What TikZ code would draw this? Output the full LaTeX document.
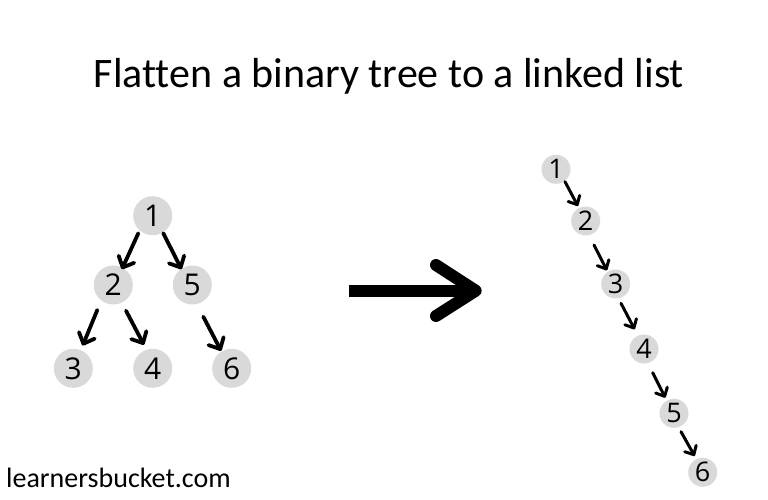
\documentclass[tikz,border=0pt]{standalone}
\usepackage{fontspec}
\setmainfont{Open Sans}
\newfontfamily\titlefont[Ligatures=NoCommon]{Carlito}
\usetikzlibrary{arrows.meta,calc}
\definecolor{nodegray}{HTML}{D9D9D9}
\begin{document}
\begin{tikzpicture}[x=1pt,y=-1pt,
  treenode/.style={circle,fill=nodegray,minimum size=39pt,inner sep=0pt,outer sep=0pt,font=\fontsize{30}{30}\selectfont},
  listnode/.style={circle,fill=nodegray,minimum size=29pt,inner sep=0pt,outer sep=0pt,font=\fontsize{27}{27}\selectfont},
  treearr/.style={line width=3.8pt,line cap=round,-{Straight Barb[length=9pt,width=17pt,round]}},
  listarr/.style={line width=3pt,line cap=round,-{Straight Barb[length=7pt,width=13pt,round]}},
  bigarr/.style={line width=12pt,line cap=round,line join=round}
]
\useasboundingbox (0,0) rectangle (768,500);
\fill[white] (0,0) rectangle (768,500);

\node[font=\titlefont\fontsize{42}{42}\selectfont,anchor=base] (title) at (389,87.3) {Flatten a binary tree to a linked list};
\node[font=\titlefont\fontsize{28}{28}\selectfont,anchor=base west,inner sep=0pt] (footer) at (6,487.3) {learnersbucket.com};

% tree
\node[treenode] (t1) at (152.7,215.7) {1};
\node[treenode] (t2) at (113.3,285) {2};
\node[treenode] (t5) at (192.3,285) {5};
\node[treenode] (t3) at (73.3,368.3) {3};
\node[treenode] (t4) at (152.7,368.3) {4};
\node[treenode] (t6) at (231.7,368.3) {6};

\draw[treearr] ($(t1)+(-14.4,17.6)$) -- ($(t2)+(8.6,-15.8)$);
\draw[treearr] ($(t1)+(10.6,17.6)$) -- ($(t5)+(-10.8,-15.8)$);
\draw[treearr] ($(t2)+(-16,25)$) -- ($(t3)+(9.4,-22.8)$);
\draw[treearr] ($(t2)+(12.7,25.7)$) -- ($(t4)+(-8.8,-23.5)$);
\draw[treearr] ($(t5)+(11,31.7)$) -- ($(t6)+(-10.6,-17.5)$);

% big arrow
\coordinate (bs) at (349,290.7);
\coordinate (bt) at (475.7,290.7);
\coordinate (bu) at (436,265);
\coordinate (bd) at (436,316);
\draw[line width=12pt] (bs) -- (bt);
\draw[bigarr] (bu) -- (bt) -- (bd);

% list
\node[listnode] (l1) at (556,169.3) {1};
\node[listnode] (l2) at (585.7,221) {2};
\node[listnode] (l3) at (615.7,284) {3};
\node[listnode] (l4) at (644,349) {4};
\node[listnode] (l5) at (674,413.3) {5};
\node[listnode] (l6) at (702.7,472.3) {6};

\draw[listarr] ($(l1)+(9,12.4)$) -- ($(l2)+(-7.8,-15)$);
\draw[listarr] ($(l2)+(8.3,24)$) -- ($(l3)+(-8.8,-13.7)$);
\draw[listarr] ($(l3)+(5.3,19.3)$) -- ($(l4)+(-9.4,-19.7)$);
\draw[listarr] ($(l4)+(8.7,23.7)$) -- ($(l5)+(-8.7,-15.6)$);
\draw[listarr] ($(l5)+(7,18.4)$) -- ($(l6)+(-8.1,-16.3)$);
\end{tikzpicture}
\end{document}
